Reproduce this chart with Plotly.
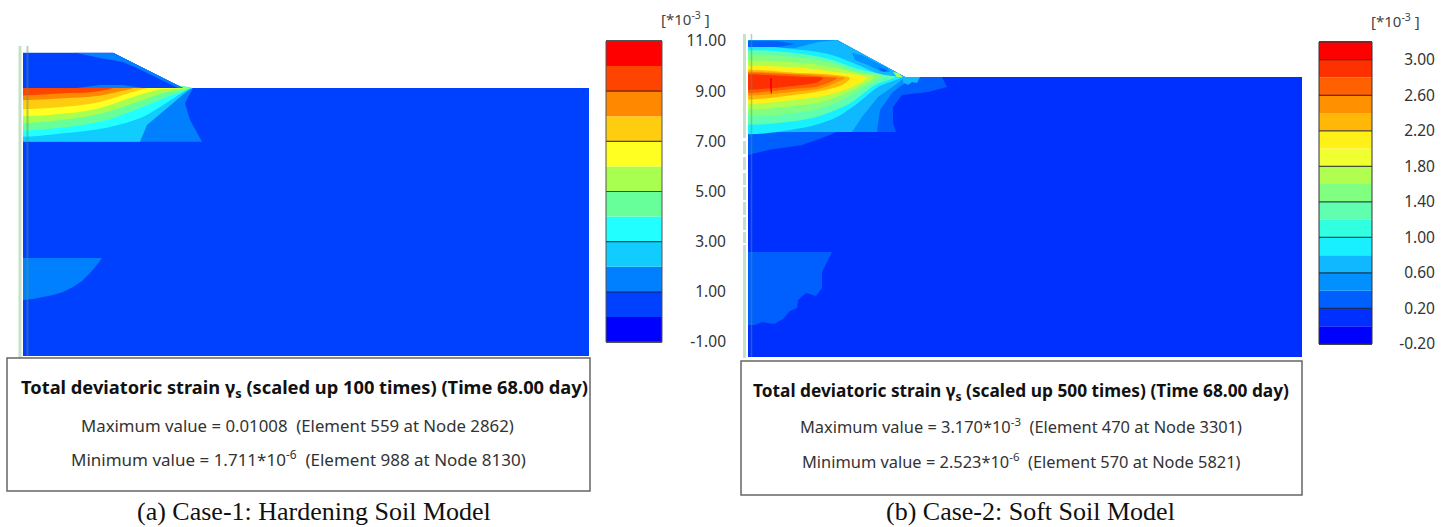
import plotly.graph_objects as go

W, H = 1447, 527

# ---------- Colour legends ----------
LEVELS_A = [-1, 0, 1, 2, 3, 4, 5, 6, 7, 8, 9, 10, 11]
COLORS_A = ["#0000ff", "#0040ff", "#0080ff", "#10ccff", "#22ffff", "#66ff99",
            "#a8ff50", "#ffff22", "#ffcc10", "#ff8800", "#ff4400", "#ff0000"]
TICKS_A = [-1, 1, 3, 5, 7, 9, 11]
TICKTEXT_A = ["-1.00", "1.00", "3.00", "5.00", "7.00", "9.00", "11.00"]
RULES_A = [1, 3, 5, 7, 9]

LEVELS_B = [-0.2, 0.0, 0.2, 0.4, 0.6, 0.8, 1.0, 1.2, 1.4, 1.6, 1.8, 2.0, 2.2, 2.4, 2.6, 2.8, 3.0, 3.2]
COLORS_B = ["#0000ff", "#0030ff", "#0060ff", "#0090ff", "#10b8ff", "#18f0ff", "#30ffe0",
            "#60ffb0", "#80ff80", "#b0ff50", "#f0ff30", "#fff018", "#ffb808", "#ff9000",
            "#ff6000", "#ff3000", "#ff0000"]
TICKS_B = [-0.2, 0.2, 0.6, 1.0, 1.4, 1.8, 2.2, 2.6, 3.0]
TICKTEXT_B = ["-0.20", "0.20", "0.60", "1.00", "1.40", "1.80", "2.20", "2.60", "3.00"]
RULES_B = [0.2, 0.6, 1.0, 1.4, 1.8, 2.2, 2.6, 3.0]

# ---------- Case 1 contour outlines ----------
A_MESH_X = [23, 113, 183, 589, 589, 23]
A_MESH_Y = [52.7, 52.7, 88, 88, 356, 356]
A_LOW_X = [23, 102, 96, 90, 82, 73, 63, 53, 43, 33, 23]
A_LOW_Y = [258, 258, 266, 273, 281, 287, 292, 295, 297, 299, 300]
A_B0_X = [23, 193, 185, 190, 202, 23]
A_B0_Y = [88, 88, 103, 120, 141.7, 141.7]
A_B1_X = [23, 192, 185, 163, 147, 140, 23]
A_B1_Y = [88, 88, 93, 112, 125, 141.7, 141.7]
A_B2_X = [5, 192, 187, 160, 143, 110, 67, 5]
A_B2_Y = [88, 88, 90, 107, 117, 127, 133, 133]
A_B3_X = [5, 190, 167, 140, 107, 67, 5]
A_B3_Y = [88, 88, 97, 108, 120, 127, 127]
A_B4_X = [5, 188, 167, 137, 103, 70, 5]
A_B4_Y = [88, 88, 92, 102, 113, 119, 120]
A_B5_X = [5, 183, 157, 130, 100, 70, 5]
A_B5_Y = [88, 88, 90, 98, 108, 113, 113]
A_B6_X = [5, 147, 143, 123, 100, 73, 5]
A_B6_Y = [88, 88, 89, 95, 102, 106, 106]
A_B7_X = [5, 133, 117, 97, 67, 5]
A_B7_Y = [88, 88, 92, 96, 98, 98]
A_B8_X = [5, 113, 93, 67, 5]
A_B8_Y = [88, 88, 92, 93, 94]
A_SLOPE_X = [75, 113, 183, 178, 137, 123, 100]
A_SLOPE_Y = [52.7, 52.7, 88, 88, 68, 62, 58]
A_MOUND_X = [77, 100, 123, 143]
A_MOUND_Y = [88, 85, 85, 88]
A_EMB_X = [23, 113, 183, 23]
A_EMB_Y = [52.7, 52.7, 88, 88]

# ---------- Case 2 contour outlines ----------
B_MESH_X = [748, 837, 905, 1302, 1302, 748]
B_MESH_Y = [40, 40, 77, 77, 357, 357]
B_LOW_X = [748, 832, 822, 822, 816, 806, 798, 797, 790, 783, 774, 762, 755, 748]
B_LOW_Y = [252, 252, 272, 288, 296, 293, 300, 308, 311, 319, 324, 322, 325, 325]
B_O1_X = [748, 837, 905, 942, 947, 928, 902, 893, 893, 896, 837, 822, 802, 768, 748]
B_O1_Y = [40, 40, 77, 77, 87, 92, 95, 107, 123, 132, 132, 138, 145, 150, 155]
B_O2_X = [748, 837, 905, 920, 902, 892, 880, 877, 748]
B_O2_Y = [40, 40, 77, 78, 85, 93, 110, 132, 132]
B_O3_X = [748, 795, 818, 837, 905, 898, 878, 862, 852, 748]
B_O3_Y = [47, 48, 42, 40, 77, 83, 97, 117, 132, 132]
B_CYAN_X = [730, 802, 832, 858, 882, 902, 878, 858, 835, 802, 730]
B_CYAN_Y = [51, 50, 55, 65, 75, 77, 87, 103, 118, 128, 130]
B_MINT_X = [730, 802, 832, 858, 885, 895, 875, 852, 828, 802, 730]
B_MINT_Y = [55, 54, 60, 69, 75, 77, 85, 102, 113, 120, 120]
B_GREEN_X = [730, 802, 832, 858, 882, 868, 848, 825, 802, 730]
B_GREEN_Y = [59, 58, 63, 72, 76, 85, 97, 107, 112, 112]
B_LIME_X = [730, 802, 832, 858, 875, 862, 842, 822, 802, 730]
B_LIME_Y = [65, 63, 67, 73, 77, 85, 95, 102, 105, 106]
B_YELLOW_X = [730, 802, 835, 858, 867, 852, 835, 818, 802, 730]
B_YELLOW_Y = [70, 68, 72, 75, 78, 87, 93, 97, 99, 101]
B_AMBER_X = [730, 802, 835, 850, 842, 825, 802, 730]
B_AMBER_Y = [73, 73, 75, 78, 85, 90, 94, 97]
B_ORANGE_X = [730, 802, 832, 845, 835, 822, 802, 730]
B_ORANGE_Y = [75, 74, 76, 78, 83, 88, 91, 93]
B_DARKOR_X = [730, 802, 825, 837, 828, 815, 802, 730]
B_DARKOR_Y = [76, 75, 77, 78, 83, 87, 88, 91]
B_RED_X = [730, 802, 823, 818, 802, 730]
B_RED_Y = [77, 77, 78, 82, 85, 88]
B_PEAK_X = [770, 772, 772, 771, 770]
B_PEAK_Y = [78, 78, 93, 94, 87]
B_TOP_X = [748, 778, 795, 778, 748]
B_TOP_Y = [41, 41, 44, 47, 47]
B_SLOPE_X = [852, 862, 875, 888, 890, 882, 868, 855]
B_SLOPE_Y = [53, 55, 62, 68, 72, 72, 65, 60]
B_SPOT_X = [878, 887, 885, 880]
B_SPOT_Y = [67, 70, 72, 70]
B_TOE_X = [893, 898, 903, 897]
B_TOE_Y = [72, 73, 77, 77]
B_TEETH_X = [903, 920, 917, 912, 908, 903]
B_TEETH_Y = [77, 77, 83, 82, 85, 82]

# ---------- Text ----------
TITLE_A = "<b>Total deviatoric strain γ<sub>s</sub> (scaled up 100 times) (Time 68.00 day)</b>"
MAX_A = "Maximum value = 0.01008\u00a0\u00a0(Element 559 at Node 2862)"
MIN_A = "Minimum value = 1.711*10<sup>-6</sup>\u00a0\u00a0(Element 988 at Node 8130)"
CAPTION_A = "(a) Case-1: Hardening Soil Model"
TITLE_B = "<b>Total deviatoric strain γ<sub>s</sub> (scaled up 500 times) (Time 68.00 day)</b>"
MAX_B = "Maximum value = 3.170*10<sup>-3</sup>\u00a0\u00a0(Element 470 at Node 3301)"
MIN_B = "Minimum value = 2.523*10<sup>-6</sup>\u00a0\u00a0(Element 570 at Node 5821)"
CAPTION_B = "(b) Case-2: Soft Soil Model"
UNIT = "[*10<sup>-3</sup> ]"

SANS = "Noto Sans"
SERIF = "Liberation Serif"
fig = go.Figure()


def dx(a, b):
    return [a / W, b / W]


def dy(top, bottom):
    return [1 - bottom / H, 1 - top / H]


def poly(xs, ys, color, sub, smooth=False):
    fig.add_trace(go.Scatter(
        x=xs + xs[:1], y=ys + ys[:1], mode="lines", fill="toself", fillcolor=color,
        line=dict(width=0, color=color, shape="spline" if smooth else "linear", smoothing=0.8),
        hoverinfo="skip", showlegend=False, xaxis="x" + sub, yaxis="y" + sub))


# Case 1
poly(A_MESH_X, A_MESH_Y, COLORS_A[1], "")
poly(A_LOW_X, A_LOW_Y, COLORS_A[2], "")
poly(A_B0_X, A_B0_Y, COLORS_A[2], "")
poly(A_B1_X, A_B1_Y, COLORS_A[3], "")
for xs, ys, c in [(A_B2_X, A_B2_Y, 4), (A_B3_X, A_B3_Y, 5),
                  (A_B4_X, A_B4_Y, 6), (A_B5_X, A_B5_Y, 7), (A_B6_X, A_B6_Y, 8), (A_B7_X, A_B7_Y, 9),
                  (A_B8_X, A_B8_Y, 10)]:
    poly(xs, ys, COLORS_A[c], "", True)
poly(A_EMB_X, A_EMB_Y, COLORS_A[1], "")
poly(A_SLOPE_X, A_SLOPE_Y, COLORS_A[2], "")
poly(A_MOUND_X, A_MOUND_Y, COLORS_A[2], "")

# Case 2
poly(B_MESH_X, B_MESH_Y, COLORS_B[1], "2")
poly(B_LOW_X, B_LOW_Y, COLORS_B[2], "2")
poly(B_O1_X, B_O1_Y, COLORS_B[2], "2")
poly(B_O2_X, B_O2_Y, COLORS_B[3], "2")
poly(B_O3_X, B_O3_Y, COLORS_B[4], "2")
for xs, ys, c in [(B_CYAN_X, B_CYAN_Y, 5), (B_MINT_X, B_MINT_Y, 7), (B_GREEN_X, B_GREEN_Y, 8),
                  (B_LIME_X, B_LIME_Y, 9), (B_YELLOW_X, B_YELLOW_Y, 11), (B_AMBER_X, B_AMBER_Y, 12),
                  (B_ORANGE_X, B_ORANGE_Y, 13), (B_DARKOR_X, B_DARKOR_Y, 14), (B_RED_X, B_RED_Y, 15)]:
    poly(xs, ys, COLORS_B[c], "2", True)
poly(B_PEAK_X, B_PEAK_Y, COLORS_B[16], "2")
poly(B_TOP_X, B_TOP_Y, COLORS_B[2], "2")
poly(B_SLOPE_X, B_SLOPE_Y, COLORS_B[3], "2")
poly(B_SPOT_X, B_SPOT_Y, COLORS_B[2], "2")
poly(B_TOE_X, B_TOE_Y, COLORS_B[9], "2")
poly(B_TEETH_X, B_TEETH_Y, COLORS_B[4], "2")


def legend(levels, colors, rules, sub):
    lows = levels[:-1]
    widths = [b - a for a, b in zip(levels[:-1], levels[1:])]
    fig.add_trace(go.Bar(x=[0] * len(lows), y=widths, base=lows, width=1,
                         marker=dict(color=colors, line=dict(width=0)),
                         hoverinfo="skip", showlegend=False, xaxis="x" + sub, yaxis="y" + sub))
    for r in rules:
        fig.add_trace(go.Scatter(x=[-0.5, 0.5], y=[r, r], mode="lines",
                                 line=dict(color="rgba(20,20,40,0.75)", width=1.2),
                                 hoverinfo="skip", showlegend=False, xaxis="x" + sub, yaxis="y" + sub))


legend(LEVELS_A, COLORS_A, RULES_A, "3")
legend(LEVELS_B, COLORS_B, RULES_B, "4")

hidden = dict(visible=False, fixedrange=True, automargin=False)
frame = dict(showgrid=False, zeroline=False, showticklabels=False, ticks="", showline=True,
             mirror=True, linecolor="#555", linewidth=1, fixedrange=True, automargin=False)
tickfont = dict(family=SANS, size=15.5, color="#333333")

fig.update_layout(
    template="none",
    width=W, height=H, margin=dict(l=0, r=0, t=0, b=0, autoexpand=False),
    paper_bgcolor="white", plot_bgcolor="rgba(0,0,0,0)", barmode="overlay", showlegend=False,
    xaxis=dict(domain=dx(23, 589), range=[23, 589], **hidden),
    yaxis=dict(domain=dy(52.5, 356), range=[356, 52.5], **hidden),
    xaxis2=dict(domain=dx(748, 1302), range=[748, 1302], **hidden),
    yaxis2=dict(domain=dy(40, 357), range=[357, 40], **hidden),
    xaxis3=dict(domain=dx(606, 662), range=[-0.5, 0.5], anchor="y3", **frame),
    yaxis3=dict(domain=dy(41, 342), range=[-1, 11], anchor="free", position=726 / W, side="left",
                tickmode="array", tickvals=TICKS_A, ticktext=TICKTEXT_A, tickfont=tickfont, automargin=False,
                showgrid=False, zeroline=False, showline=False, ticks="", fixedrange=True),
    xaxis4=dict(domain=dx(1319, 1372), range=[-0.5, 0.5], anchor="y4", **frame),
    yaxis4=dict(domain=dy(42, 344), range=[-0.2, 3.2], anchor="free", position=1435 / W, side="left",
                tickmode="array", tickvals=TICKS_B, ticktext=TICKTEXT_B, tickfont=tickfont, automargin=False,
                showgrid=False, zeroline=False, showline=False, ticks="", fixedrange=True),
)


def rect(x0, y0, x1, y1, line="#666", width=1.5, fill="white", layer="above"):
    fig.add_shape(type="rect", xref="paper", yref="paper", x0=x0 / W, x1=x1 / W, y0=1 - y0 / H, y1=1 - y1 / H,
                  line=dict(color=line, width=width), fillcolor=fill, layer=layer)


def vline(x, y0, y1, color, width):
    fig.add_shape(type="line", xref="paper", yref="paper", x0=x / W, x1=x / W, y0=1 - y0 / H, y1=1 - y1 / H,
                  line=dict(color=color, width=width), layer="above")


# mesh guide lines
GREEN = "#c6e2c6"
OVER = "rgba(90,150,110,0.45)"
vline(20, 46, 358, GREEN, 3)
vline(27.5, 46, 356, OVER, 2)
for a, b in [(34, 138), (141, 154), (157, 170), (173, 185), (187, 200), (202, 215), (217, 230), (232, 243), (245, 358)]:
    vline(744.5, a, b, GREEN, 3)
vline(751.5, 34, 357, OVER, 1.5)

# info boxes
rect(7, 358, 590, 491)
rect(741, 361, 1302, 495)
# legend frame
rect(606, 41, 662, 342, line="#555", width=1, fill="rgba(0,0,0,0)")
rect(1319, 42, 1372, 344, line="#333", width=1, fill="rgba(0,0,0,0)")


def label(text, x, y, size, family=SANS, color="#222222"):
    fig.add_annotation(text=text, x=x / W, y=1 - y / H, xref="paper", yref="paper", showarrow=False,
                       xanchor="center", yanchor="middle", font=dict(family=family, size=size, color=color))


label(TITLE_A, 304, 388, 18.3, color="#111111")
label(MAX_A, 297, 425, 16.8, color="#333333")
label(MIN_A, 298, 458, 17, color="#333333")
label(CAPTION_A, 314, 511, 26, SERIF, "#111111")
label(TITLE_B, 1021, 392, 17.3, color="#111111")
label(MAX_B, 1021, 426, 16.4, color="#333333")
label(MIN_B, 1021, 461, 16.4, color="#333333")
label(CAPTION_B, 1030, 511, 26, SERIF, "#111111")
label(UNIT, 685, 19, 15, color="#444444")
label(UNIT, 1395, 21, 15, color="#444444")

fig.write_html("out.html", config={"displayModeBar": False},
               post_script="document.body.style.margin='0';document.documentElement.style.overflow='hidden';")
